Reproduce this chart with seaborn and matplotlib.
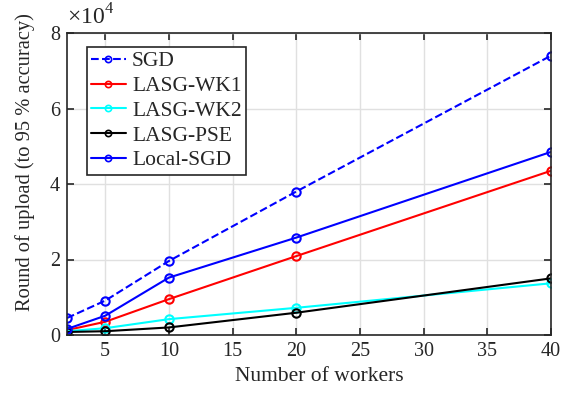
import matplotlib
matplotlib.use("Agg")
import matplotlib.pyplot as plt
import seaborn as sns
import pandas as pd
from matplotlib.ticker import FuncFormatter

workers = [2, 5, 10, 20, 40]
sgd = [4500, 9100, 19600, 38000, 74000]
lasg_wk1 = [1300, 3500, 9500, 20900, 43500]
lasg_wk2 = [1000, 1800, 4200, 7200, 13700]
lasg_pse = [800, 1000, 2000, 5900, 15000]
local_sgd = [1600, 5100, 15200, 25800, 48500]

series = [
    ("SGD", sgd, "#0000ff", "--"),
    ("LASG-WK1", lasg_wk1, "#ff0000", "-"),
    ("LASG-WK2", lasg_wk2, "#00ffff", "-"),
    ("LASG-PSE", lasg_pse, "#000000", "-"),
    ("Local-SGD", local_sgd, "#0000ff", "-"),
]

sns.set_theme(style="white")
plt.rcParams['font.family'] = ['Liberation Serif', 'DejaVu Serif']
plt.rcParams['mathtext.fontset'] = 'custom'
plt.rcParams['mathtext.rm'] = 'Liberation Serif'

fig = plt.figure(figsize=(5.63, 3.93), dpi=100)
ax = fig.add_axes([67/563, 1-335/393, (551-67)/563, (335-33)/393])

for name, vals, col, ls in series:
    df = pd.DataFrame({"x": workers, "y": vals})
    sns.lineplot(data=df, x="x", y="y", ax=ax, color=col, linestyle=ls,
                 linewidth=1.5, marker="o", markersize=6, markerfacecolor="none",
                 markeredgecolor=col, markeredgewidth=1.5, label=name)

ax.set_xlim(2, 40)
ax.set_ylim(0, 80000)
ax.set_xticks([5, 10, 15, 20, 25, 30, 35, 40])
ax.set_yticks([0, 20000, 40000, 60000, 80000])
ax.yaxis.set_major_formatter(FuncFormatter(lambda v, p: f"{v/1e4:g}"))
ax.grid(True, color="#e0e0e0", linewidth=1)
ax.set_axisbelow(True)
for s in ax.spines.values():
    s.set_color("#262626")
    s.set_linewidth(1.2)
    s.set_visible(True)
ax.tick_params(direction="in", length=5, width=1.2, color="#262626",
               top=True, right=True, labelsize=14.5, labelcolor="#262626", pad=5,
               bottom=True, left=True)
ax.set_xlabel("Number of workers", fontsize=15.5, color="#262626")
ax.xaxis.set_label_coords(0.522, -0.105)
ax.set_ylabel("Round of upload (to 95 % accuracy)", fontsize=14.8, color="#262626")
ax.yaxis.set_label_coords(-0.066, 0.573)
ax.text(0.0, 1.01, r"$\times10^4$", transform=ax.transAxes, fontsize=17,
        color="#262626", ha="left", va="bottom")

leg = ax.legend(loc="upper left", bbox_to_anchor=(0.041, 0.954), fontsize=15.5,
                handlelength=1.6, handletextpad=0.3, borderpad=0.2,
                labelspacing=0.22, fancybox=False, framealpha=1,
                edgecolor="#262626", borderaxespad=0)
leg.get_frame().set_linewidth(1.2)
for h in leg.legend_handles:
    h.set_markersize(4.5)
    h.set_markeredgewidth(1.2)

fig.savefig("out.png", dpi=100)
